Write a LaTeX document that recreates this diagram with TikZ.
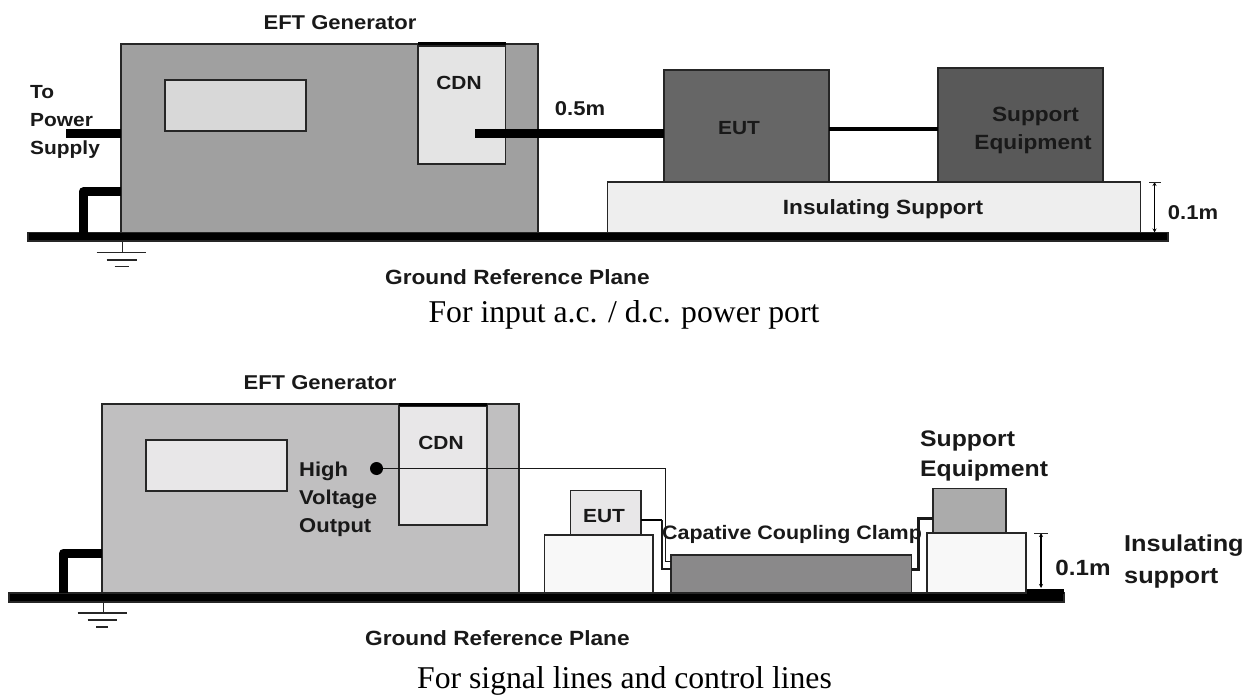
\documentclass[tikz,border=0pt]{standalone}
\usepackage{fontspec}
\usetikzlibrary{arrows.meta}
\setmainfont{Liberation Serif}
\newfontfamily\lab{Liberation Sans}[FakeStretch=1.1]
\newcommand{\labfont}[1]{\lab\bfseries\fontsize{#1}{28}\selectfont}
\newcommand{\boxnode}[6]{\node[blockbox,fill=#6,minimum width={(#4-#2)*1pt},minimum height={(#5-#3)*1pt}] (#1) at ({(#2+#4)/2},{(#3+#5)/2}) {};}
\definecolor{genA}{HTML}{A0A0A0}
\definecolor{genB}{HTML}{C0BFC0}
\definecolor{paleA}{HTML}{D8D8D8}
\definecolor{paleB}{HTML}{E8E7E8}
\definecolor{eutdark}{HTML}{666666}
\definecolor{supdark}{HTML}{595959}
\definecolor{inscol}{HTML}{EEEEEE}
\definecolor{basecol}{HTML}{F8F8F8}
\definecolor{clampcol}{HTML}{8A898A}
\definecolor{supmid}{HTML}{ABABAB}
\tikzset{
 blockbox/.style={draw=black!85,line width=1.2pt,inner sep=0pt,outer sep=0pt,rectangle},
 planebox/.style={fill=black,draw=none,inner sep=0pt,outer sep=0pt,rectangle},
 heavy/.style={line width=9pt,black},
 medium/.style={line width=3.5pt,black},
 thinw/.style={line width=1.6pt,black!90},
 lbl/.style={font=\labfont{19},inner sep=0pt,text=black!90},
 lblmid/.style={font=\labfont{20},inner sep=0pt,text=black!90},
 lblwide/.style={font=\labfont{20.6},inner sep=0pt,text=black!90},
 lblbig/.style={font=\labfont{23},inner sep=0pt,text=black!90},
 captext/.style={font=\fontsize{31.7}{36}\selectfont,inner sep=0pt,text=black,anchor=base},
 dimline/.style={line width=1.2pt,black,{Stealth[length=4pt,width=4pt]}-{Stealth[length=4pt,width=4pt]}},
 gbar/.style={black!85,line width=1.2pt}
}
\begin{document}
\begin{tikzpicture}[x=1pt,y=-1pt]
\useasboundingbox (0,0) rectangle (1258,695);
% ---- top panel
\boxnode{planeA}{28}{232.5}{1168}{241}{black}
\boxnode{genT}{121}{44}{538}{232.5}{genA}
\boxnode{cdnT}{418}{46}{505.5}{164}{paleA!70!white}
\boxnode{winT}{165}{80}{306}{131}{paleA}
\boxnode{eutT}{664}{70}{829}{182}{eutdark}
\boxnode{supT}{938}{68}{1103}{182}{supdark}
\boxnode{insT}{607.5}{182}{1140.5}{232.5}{inscol}
\draw[line width=3pt,black] (genT.north -| cdnT.west) -- (genT.north -| cdnT.east);
\coordinate (pwrT) at (66,134);
\draw[heavy] (pwrT) -- (pwrT -| genT.west);
\coordinate (strapT) at (83,192);
\draw[heavy,line join=round] (strapT -| genT.west) -- (strapT) -- (strapT |- planeA.north);
\coordinate (cdnoutT) at (475,134);
\draw[heavy] (cdnoutT) -- (cdnoutT -| eutT.west);
\coordinate (linkT) at (829,129);
\draw[line width=3.5pt,black] (linkT) -- (linkT -| supT.west);
\coordinate (stemT) at (122.5,241);
\coordinate (gndT) at (122.5,252.5);
\draw[gbar] (stemT) -- (gndT);
\draw[gbar] (96.5,252.5) -- (145.5,252.5);
\draw[gbar,line width=2pt] (106.5,259.5) -- (136.5,259.5);
\draw[gbar,line width=1.6pt] (114.5,266.5) -- (128.5,266.5);
\coordinate (dimTa) at (1154.5,182);
\coordinate (dimTb) at (1154.5,232.5);
\draw[dimline] (dimTa) -- (dimTb);
\draw[gbar] (1149,182.5) -- (1161,182.5);
\node[lblmid] (tEFT) at (340,23) {EFT Generator};
\node[lbl] (tCDN) at (459,83) {CDN};
\node[lblmid] (t05) at (580,109) {0.5m};
\node[lbl,align=left,anchor=west] (tPow) at (30,122) {To\\Power\\Supply};
\node[lbl] (tEUT) at (739,128) {EUT};
\node[lblwide,align=center] (tSup) at (1033,130) {\hspace*{5pt}Support\\Equipment};
\node[lblwide] (tIns) at (883,209) {Insulating Support};
\node[lblmid] (t01) at (1193,213) {0.1m};
\node[lblwide,anchor=west] (tGnd) at (385,277) {Ground Reference Plane};
\node[captext] (tCap) at (624,322) {For input a.c. / d.c. power port};
% ---- bottom panel
\boxnode{planeB}{9}{593}{1064}{602}{black}
\node[planebox,minimum width=38pt,minimum height=5pt] (planeBr) at (1045,591) {};
\boxnode{genB}{102}{404}{519}{593}{genB}
\boxnode{cdnB}{399}{406}{487}{525}{paleB}
\boxnode{winB}{146}{440}{287}{491}{paleB}
\boxnode{baseL}{544.7}{535}{653}{593}{basecol}
\boxnode{eutB}{570.7}{490.7}{641}{535}{paleB}
\boxnode{clamp}{671}{555}{911.7}{593}{clampcol}
\boxnode{baseR}{927}{533}{1026}{593}{basecol}
\boxnode{supB}{933}{488.7}{1006}{533}{supmid}
\draw[line width=3pt,black] (genB.north -| cdnB.west) -- (genB.north -| cdnB.east);
\coordinate (strapB) at (63.5,553);
\draw[heavy,line join=round] (strapB -| genB.west) -- (strapB) -- (strapB |- planeB.north);
\coordinate (stemB) at (103.7,602);
\coordinate (gndB) at (103.7,613);
\draw[gbar] (stemB) -- (gndB);
\draw[gbar] (77.5,613) -- (126.5,613);
\draw[gbar,line width=2pt] (87.6,620) -- (117.3,620);
\draw[gbar,line width=1.6pt] (96,627) -- (108,627);
\node[circle,fill=black,minimum size=13pt,inner sep=0pt,outer sep=0pt] (dot) at (376.5,468.5) {};
\coordinate (hvA) at (665.5,468.5);
\coordinate (hvB) at (665.5,561.5);
\draw[thinw] (dot) -- (hvA) -- (hvB) -- (hvB -| clamp.west);
\coordinate (eutA) at (662,520);
\coordinate (eutC) at (662,568.5);
\draw[medium,line width=2.8pt] (eutA -| eutB.east) -- (eutA);
\draw[thinw,line width=2pt] (eutA) -- (eutC) -- (eutC -| clamp.west);
\coordinate (supA) at (918,518);
\coordinate (supC) at (918,569);
\draw[thinw,line width=3pt] (supA -| supB.west) -- (supA) -- (supC) -- (supC -| clamp.east);
\coordinate (dimBa) at (1041,533);
\coordinate (dimBb) at (1041,588);
\draw[dimline] (dimBa) -- (dimBb);
\draw[gbar] (1034,533.5) -- (1048,533.5);
\node[lblmid] (bEFT) at (320,383) {EFT Generator};
\node[lbl] (bCDN) at (441,443) {CDN};
\node[lblmid,align=left,anchor=west] (bHigh) at (299,499) {High\\Voltage\\Output};
\node[lbl] (bEUT) at (604,516) {EUT};
\node[lblmid,font=\labfont{19.5}] (bClamp) at (792,534) {Capative Coupling Clamp};
\node[lblbig,align=left,anchor=west,font=\labfont{22.5}] (bSup) at (920,456) {Support\\[2pt]Equipment};
\node[lblbig,font=\labfont{22}] (b01) at (1083,568) {0.1m};
\node[lblbig,align=left,anchor=west] (bIns) at (1124,562) {Insulating\\[4pt]support};
\node[lblwide,anchor=west] (bGnd) at (365,638) {Ground Reference Plane};
\node[captext] (bCap) at (624.5,688) {For signal lines and control lines};
\end{tikzpicture}
\end{document}
